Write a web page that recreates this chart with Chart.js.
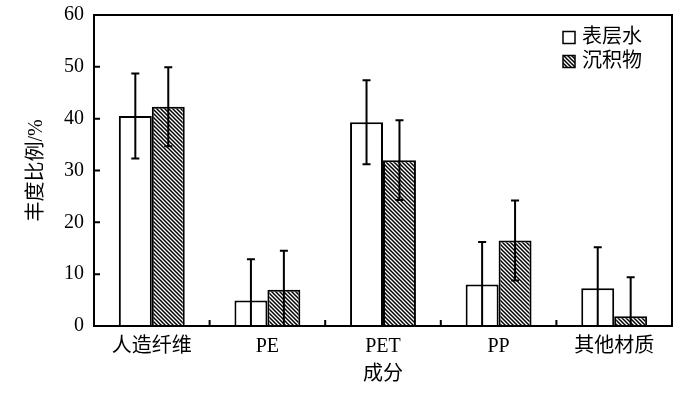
<!DOCTYPE html>
<html>
<head>
<meta charset="utf-8">
<script src="https://cdn.jsdelivr.net/npm/chart.js@4/dist/chart.umd.min.js"></script>
<style>
  html, body { margin: 0; padding: 0; background: #fff; }
  #wrap { width: 700px; height: 393px; position: relative; }
</style>
</head>
<body>
<div id="wrap"><canvas id="abundanceChart"></canvas></div>
<script>
const categories = ["人造纤维", "PE", "PET", "PP", "其他材质"];
const seriesNames = ["表层水", "沉积物"];
const surfaceWater = [40.5, 4.9, 39.3, 8.0, 7.3];
const surfaceWaterErr = [8.2, 8.0, 8.1, 8.2, 7.9];
const sediment = [42.3, 7.0, 32.0, 16.5, 1.9];
const sedimentErr = [7.6, 7.5, 7.7, 7.7, 7.5];
const yTicks = [0, 10, 20, 30, 40, 50, 60];

const serifFont = "'Liberation Serif', 'Noto Sans CJK SC', serif";

function makeHatch() {
  const s = 4;
  const c = document.createElement("canvas");
  c.width = s;
  c.height = s;
  const g = c.getContext("2d");
  g.fillStyle = "#fff";
  g.fillRect(0, 0, s, s);
  g.strokeStyle = "#000";
  g.lineWidth = 1.5;
  g.beginPath();
  g.moveTo(0, 0); g.lineTo(s, s);
  g.moveTo(-2, s - 2); g.lineTo(2, s + 2);
  g.moveTo(s - 2, -2); g.lineTo(s + 2, 2);
  g.stroke();
  return document.getElementById("abundanceChart").getContext("2d").createPattern(c, "repeat");
}

const hatch = makeHatch();
const errors = [surfaceWaterErr, sedimentErr];

// error bars, inward ticks, frame and legend
const decorations = {
  id: "decorations",
  afterDatasetsDraw(chart) {
    const { ctx, chartArea: area, scales } = chart;
    const y = scales.y;
    const x = scales.x;
    ctx.save();
    ctx.strokeStyle = "#000";
    ctx.lineWidth = 2;

    chart.data.datasets.forEach((ds, di) => {
      const meta = chart.getDatasetMeta(di);
      meta.data.forEach((bar, i) => {
        const v = ds.data[i];
        const e = errors[di][i];
        const top = y.getPixelForValue(v + e);
        const bot = y.getPixelForValue(Math.max(0, v - e));
        ctx.beginPath();
        ctx.moveTo(bar.x, top);
        ctx.lineTo(bar.x, bot);
        ctx.moveTo(bar.x - 4, top);
        ctx.lineTo(bar.x + 4, top);
        ctx.moveTo(bar.x - 4, bot);
        ctx.lineTo(bar.x + 4, bot);
        ctx.stroke();
      });
    });

    ctx.beginPath();
    y.ticks.forEach(t => {
      const py = y.getPixelForValue(t.value);
      ctx.moveTo(area.left, py);
      ctx.lineTo(area.left + 6, py);
    });
    for (let i = 0; i < categories.length - 1; i++) {
      const px = (x.getPixelForValue(i) + x.getPixelForValue(i + 1)) / 2;
      ctx.moveTo(px, area.bottom);
      ctx.lineTo(px, area.bottom - 6);
    }
    ctx.stroke();

    ctx.strokeRect(area.left, area.top, area.right - area.left, area.bottom - area.top);

    // legend
    ctx.font = "20px " + serifFont;
    ctx.textBaseline = "middle";
    ctx.textAlign = "left";
    ctx.lineWidth = 1.5;
    const lx = area.right - 109;
    chart.data.datasets.forEach((ds, di) => {
      const ly = area.top + 22.5 + di * 24;
      ctx.fillStyle = ds.backgroundColor;
      ctx.fillRect(lx, ly - 6, 12, 12);
      ctx.strokeRect(lx, ly - 6, 12, 12);
      ctx.fillStyle = "#000";
      ctx.fillText(ds.label, lx + 19, ly);
    });
    ctx.restore();
  }
};

new Chart(document.getElementById("abundanceChart"), {
  type: "bar",
  data: {
    labels: categories,
    datasets: [
      {
        label: seriesNames[0],
        data: surfaceWater,
        backgroundColor: "#fff",
        borderColor: "#000",
        borderWidth: 2
      },
      {
        label: seriesNames[1],
        data: sediment,
        backgroundColor: hatch,
        borderColor: "#000",
        borderWidth: 2
      }
    ]
  },
  options: {
    responsive: true,
    maintainAspectRatio: false,
    animation: false,
    layout: {
      padding: { left: 0, right: 28, top: 15, bottom: 0 }
    },
    datasets: {
      bar: {
        barPercentage: 1,
        categoryPercentage: 0.57
      }
    },
    plugins: {
      legend: { display: false },
      tooltip: { enabled: false }
    },
    scales: {
      x: {
        grid: { display: false, drawTicks: false },
        border: { display: false },
        afterFit: (s) => {
          s.height = 67;
          s.paddingLeft = 0;
          s.paddingRight = 0;
        },
        ticks: {
          color: "#000",
          padding: 9,
          font: { family: serifFont, size: 20 }
        },
        title: {
          display: true,
          text: "成分",
          color: "#000",
          font: { family: serifFont, size: 20 },
          padding: { top: 0, bottom: 6 }
        }
      },
      y: {
        min: 0,
        max: 60,
        afterBuildTicks: (s) => { s.ticks = yTicks.map(v => ({ value: v })); },
        afterFit: (s) => {
          s.width = 94;
          s.paddingTop = 0;
          s.paddingBottom = 0;
        },
        grid: { display: false, drawTicks: false },
        border: { display: false },
        ticks: {
          color: "#000",
          padding: 10,
          font: { family: serifFont, size: 20 }
        },
        title: {
          display: true,
          text: "丰度比例/%",
          color: "#000",
          font: { family: serifFont, size: 20 },
          padding: { top: 25, bottom: 0 }
        }
      }
    }
  },
  plugins: [decorations]
});
</script>
</body>
</html>
